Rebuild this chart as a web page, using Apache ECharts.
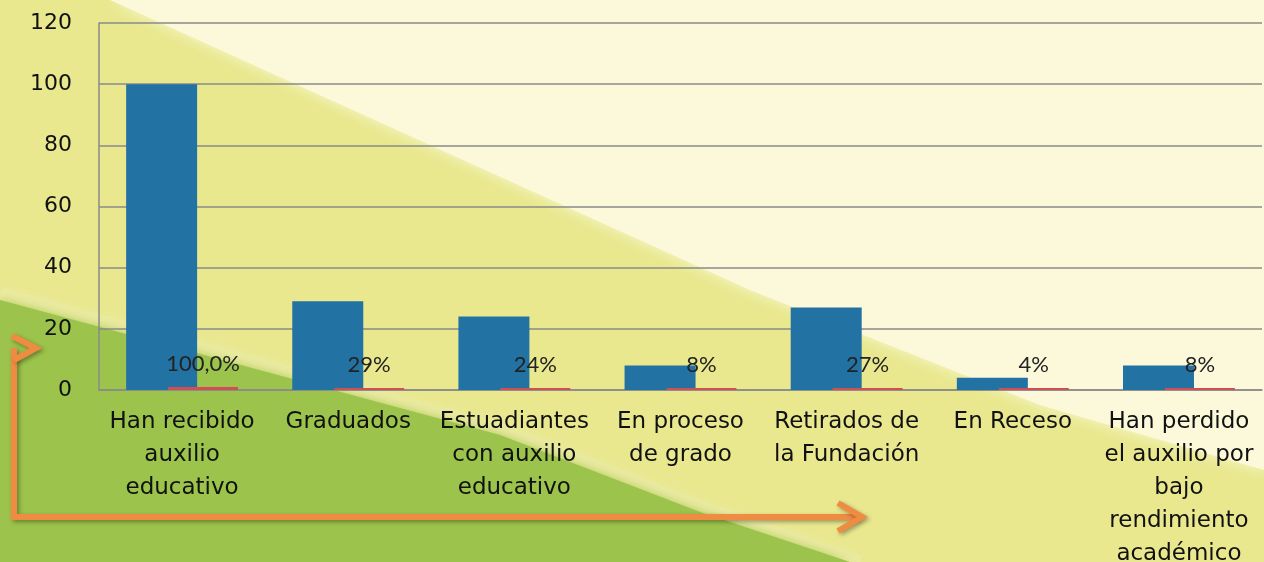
<!DOCTYPE html>
<html><head><meta charset="utf-8">
<script src="https://cdn.jsdelivr.net/npm/echarts@6/dist/echarts.min.js"></script>
<style>html,body{margin:0;padding:0;}#c{width:1264px;height:562px;}</style>
</head><body><div id="c"></div>
<script>
const categories = ["Han recibido\nauxilio\neducativo","Graduados","Estuadiantes\ncon auxilio\neducativo","En proceso\nde grado","Retirados de\nla Fundación","En Receso","Han perdido\nel auxilio por\nbajo\nrendimiento\nacadémico"];
const counts = [100, 29, 24, 8, 27, 4, 8];
const shares = [1.0, 0.29, 0.24, 0.08, 0.27, 0.04, 0.08];
const shareLabels = ["100,0%","29%","24%","8%","27%","4%","8%"];
const yTicks = {min:0, max:120, interval:20};

const chart = echarts.init(document.getElementById('c'), null, {renderer:'canvas'});
const orange = '#ef8c42';
const arrowShadow = {shadowBlur:4, shadowColor:'rgba(0,0,0,0.35)', shadowOffsetX:2, shadowOffsetY:2};
const axisFont = '"DejaVu Sans", Lato, sans-serif';
chart.setOption({
  animation:false,
  backgroundColor:'#e9e88f',
  graphic:[
    {type:'polygon', z:-10, silent:true, shape:{points:[[110,0],[1264,0],[1264,470],[1040,405],[750,290]]},
     style:{fill:'#fbf9da', shadowBlur:14, shadowColor:'rgba(251,249,218,0.9)'}},
    {type:'polyline', z:-9, silent:true, shape:{points:[[0,294],[500,430],[700,507],[860,562]]},
     style:{stroke:'rgba(240,240,190,0.3)', lineWidth:14, fill:null, shadowBlur:18, shadowColor:'rgba(250,248,210,0.5)'}},
    {type:'polygon', z:-8, silent:true, shape:{points:[[0,300],[500,435],[700,512],[850,562],[0,562]]},
     style:{fill:'#9cc34b', shadowBlur:10, shadowColor:'rgba(156,195,75,0.8)'}},
    {type:'polyline', z:10, silent:true, shape:{points:[[14,348],[14,517],[858,517]]},
     style:Object.assign({stroke:orange, lineWidth:6, fill:null}, arrowShadow)},
    {type:'polyline', z:10, silent:true, shape:{points:[[838,503],[862,517],[838,531]]},
     style:Object.assign({stroke:orange, lineWidth:6, fill:null, lineJoin:'miter'}, arrowShadow)},
    {type:'polyline', z:10, silent:true, shape:{points:[[12,336],[36,348],[14,360]]},
     style:Object.assign({stroke:orange, lineWidth:6, fill:null, lineJoin:'miter'}, arrowShadow)}
  ],
  grid:{left:99, right:2, top:23, bottom:172, containLabel:false, outerBoundsMode:'none'},
  xAxis:{type:'category', data:categories,
    axisLine:{show:true, lineStyle:{color:'#8a8a8a', width:1.5}},
    axisTick:{show:false},
    axisLabel:{interval:0, color:'#111', fontFamily:axisFont, fontSize:23, lineHeight:33, margin:16}
  },
  yAxis:{type:'value', min:yTicks.min, max:yTicks.max, interval:yTicks.interval,
    axisLine:{show:true, lineStyle:{color:'#8a8a8a', width:1.5}},
    axisTick:{show:false},
    splitLine:{lineStyle:{color:'#8a8a8a', width:1.5}},
    axisLabel:{color:'#111', fontFamily:axisFont, fontSize:22, margin:27}
  },
  series:[
    {type:'bar', data:counts, barWidth:71, barGap:'-41%', itemStyle:{color:'#2372a4'}},
    {type:'bar', data:shares, barWidth:70, barMinHeight:2, itemStyle:{color:'#cf4f55'},
     label:{show:true, position:'top', distance:12, color:'#222', fontFamily:'Lato, "Open Sans", sans-serif', fontSize:22,
       formatter:(p)=>shareLabels[p.dataIndex]}}
  ]
});
</script></body></html>
